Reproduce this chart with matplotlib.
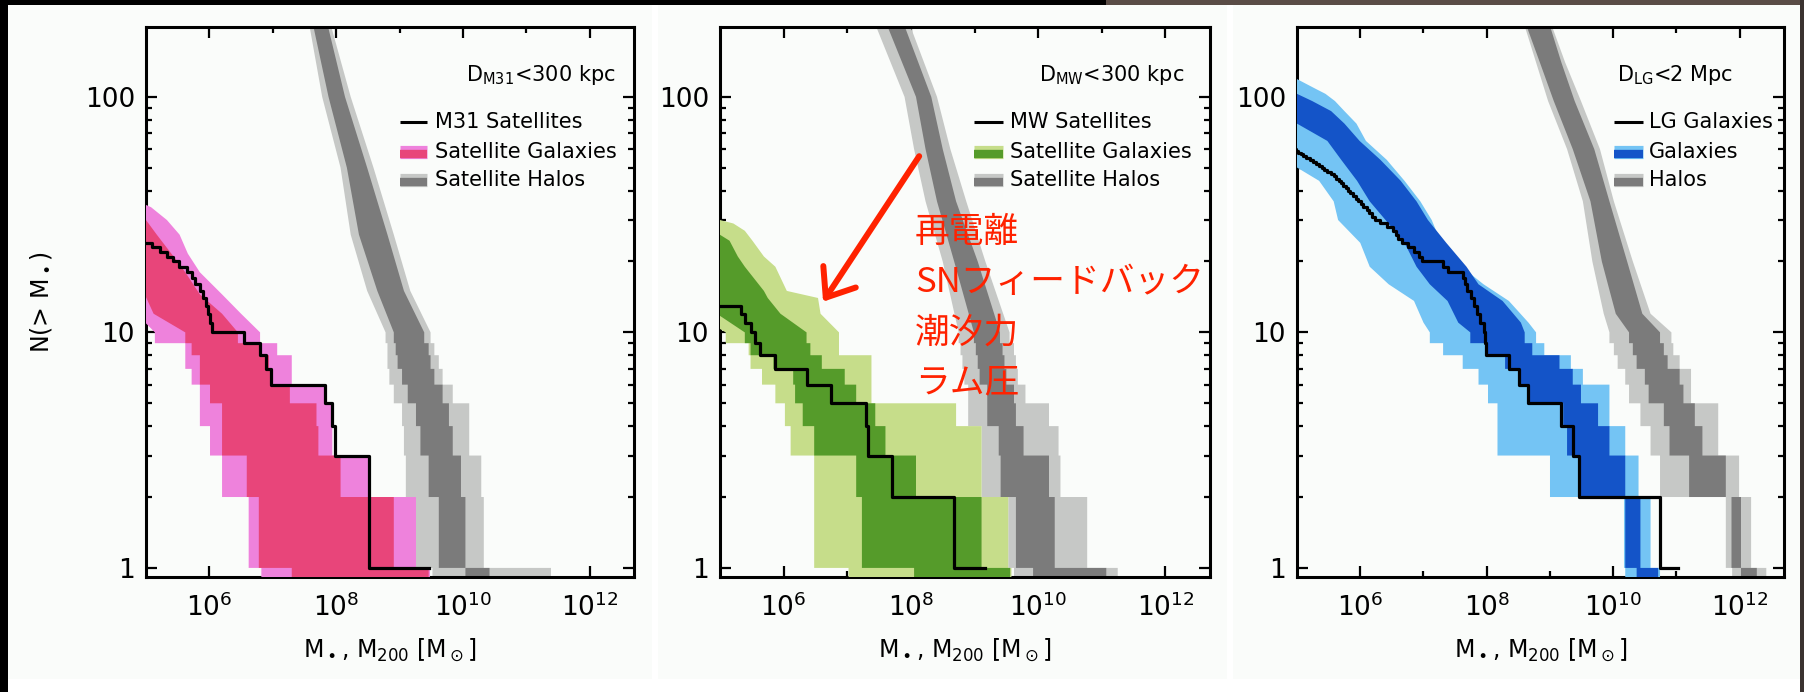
import numpy as np
import matplotlib
matplotlib.use("Agg")
import matplotlib.pyplot as plt
from matplotlib.patches import Rectangle
from matplotlib.ticker import NullFormatter

# ---------------------------------------------------------------------------
# Data (log10 masses in Msun, N = cumulative count)
# ---------------------------------------------------------------------------
# observed satellites: log10 mass of each object, most massive first
m31_sat_logm = [9.46, 8.52, 8.52, 7.98, 7.94, 7.82, 6.97, 6.90, 6.80, 6.55,
                6.04, 6.01, 5.98, 5.94, 5.90, 5.85, 5.78, 5.72, 5.64, 5.52,
                5.43, 5.33, 5.22, 5.10, 4.90]
mw_sat_logm = [9.17, 8.68, 7.70, 7.32, 7.29, 6.75, 6.36, 5.87, 5.63, 5.55,
               5.48, 5.40, 5.33, 4.90]
lg_sat_logm = [11.02, 10.74, 9.46, 9.36, 9.18, 8.66, 8.51, 8.35, 7.99, 7.97,
               7.95, 7.90, 7.85, 7.80, 7.75, 7.68, 7.65, 7.62, 7.38, 7.31,
               6.98, 6.93, 6.85, 6.75, 6.66, 6.60, 6.56, 6.52, 6.42, 6.32,
               6.24, 6.18, 6.14, 6.10, 6.05, 6.01, 5.97, 5.93, 5.88, 5.84,
               5.80, 5.77, 5.73, 5.69, 5.66, 5.62, 5.58, 5.53, 5.48, 5.43,
               5.39, 5.34, 5.30, 5.25, 5.20, 5.15, 5.10, 5.06, 5.02, 4.98,
               4.90]

# simulated bands: rank levels (first 10 are integer ranks, drawn as steps)
# and log10 mass of outer-low, inner-low, inner-high, outer-high edges
m31_gal_n = [1, 2, 3, 4, 5, 6, 7, 8, 9, 10, 12, 14.5, 18, 21.6, 26, 30, 34, 40]
m31_gal_out_lo = [6.82, 6.62, 6.20, 6.01, 5.85, 5.85, 5.72, 5.62, 5.62, 5.14,
                  4.85, 4.6, 4.5, 4.5, 4.5, 4.5, 4.5, 4.5]
m31_gal_in_lo = [7.30, 6.78, 6.59, 6.20, 6.20, 6.01, 5.85, 5.85, 5.72, 5.62,
                 5.12, 4.98, 4.7, 4.5, 4.5, 4.5, 4.5, 4.5]
m31_gal_in_hi = [9.46, 8.91, 8.07, 7.72, 7.69, 7.27, 6.98, 6.94, 6.82, 6.45,
                 6.2, 5.85, 5.62, 5.40, 5.17, 5.0, 4.8, 4.5]
m31_gal_out_hi = [9.48, 9.26, 8.52, 7.94, 7.94, 7.81, 7.30, 7.30, 7.07, 6.8,
                  6.5, 6.2, 5.85, 5.66, 5.53, 5.33, 5.08, 4.5]

m31_halo_n = [1, 2, 3, 4, 5, 6, 7, 8, 9, 10, 15, 26, 50, 100, 200]
m31_halo_out_lo = [9.52, 9.26, 9.10, 9.07, 9.04, 8.91, 8.84, 8.81, 8.81, 8.78,
                   8.49, 8.23, 8.07, 7.78, 7.58]
m31_halo_in_lo = [10.04, 9.62, 9.46, 9.33, 9.26, 9.13, 9.04, 8.97, 8.94, 8.91,
                  8.65, 8.36, 8.17, 7.88, 7.64]
m31_halo_in_hi = [10.42, 10.04, 9.97, 9.84, 9.78, 9.68, 9.55, 9.49, 9.46, 9.39,
                  9.07, 8.81, 8.49, 8.14, 7.87]
m31_halo_out_hi = [11.39, 10.33, 10.29, 10.10, 10.10, 9.84, 9.68, 9.62, 9.55, 9.49,
                   9.17, 8.91, 8.59, 8.23, 7.92]

mw_gal_n = [1, 2, 3, 4, 5, 6, 7, 8, 9, 10, 12, 14, 15, 19, 21, 24.5, 27, 29, 30, 35]
mw_gal_out_lo = [7.02, 6.48, 6.48, 6.11, 6.02, 5.87, 5.66, 5.48, 5.45, 5.09,
                 4.6, 4.5, 4.5, 4.5, 4.5, 4.5, 4.5, 4.5, 4.5, 4.5]
mw_gal_in_lo = [8.05, 7.23, 7.14, 6.48, 6.30, 6.18, 6.15, 5.84, 5.48, 5.39,
                4.95, 4.75, 4.7, 4.5, 4.5, 4.5, 4.5, 4.5, 4.5, 4.5]
mw_gal_in_hi = [9.56, 9.11, 8.08, 7.60, 7.44, 7.14, 6.96, 6.60, 6.42, 6.36,
                5.95, 5.75, 5.69, 5.39, 5.28, 5.15, 4.9, 4.7, 4.5, 4.5]
mw_gal_out_hi = [9.58, 9.53, 9.11, 9.11, 8.71, 7.38, 7.38, 7.38, 6.87, 6.87,
                 6.58, 6.54, 6.05, 5.87, 5.69, 5.51, 5.39, 5.21, 5.0, 4.5]

mw_halo_n = [1, 2, 3, 4, 5, 6, 7, 8, 9, 10, 20, 36, 60, 100, 200]
mw_halo_out_lo = [9.62, 9.53, 9.11, 9.11, 8.90, 8.90, 8.84, 8.81, 8.78, 8.75,
                  8.50, 8.23, 8.05, 7.90, 7.45]
mw_halo_in_lo = [9.92, 9.65, 9.41, 9.38, 9.20, 9.20, 9.08, 9.05, 9.02, 8.99,
                 8.68, 8.41, 8.23, 8.08, 7.63]
mw_halo_in_hi = [11.07, 10.26, 10.17, 9.77, 9.65, 9.62, 9.50, 9.47, 9.44, 9.40,
                 9.05, 8.71, 8.50, 8.32, 7.90]
mw_halo_out_hi = [11.25, 10.77, 10.35, 10.32, 10.17, 9.80, 9.68, 9.65, 9.62, 9.55,
                  9.17, 8.87, 8.62, 8.41, 7.99]

lg_gal_n = [1, 2, 3, 4, 5, 6, 7, 8, 9, 10, 11, 13.6, 16, 19, 24, 30, 36, 44, 54,
            65, 77, 87, 96, 103, 108, 119, 125]
lg_gal_out_lo = [10.19, 10.17, 9.00, 8.17, 8.17, 8.02, 7.87, 7.62, 7.31, 7.10,
                 7.0, 6.85, 6.45, 6.15, 6.0, 5.65, 5.58, 5.35, 4.8, 4.6, 4.5,
                 4.5, 4.5, 4.5, 4.5, 4.5, 4.5]
lg_gal_in_lo = [10.37, 10.19, 9.46, 9.27, 9.21, 8.66, 8.54, 8.29, 7.99, 7.74,
                7.55, 7.38, 7.1, 6.89, 6.7, 6.40, 6.15, 5.95, 5.7, 5.48, 5.0,
                4.7, 4.5, 4.5, 4.5, 4.5, 4.5]
lg_gal_in_hi = [10.71, 10.43, 10.19, 9.94, 9.76, 9.49, 9.36, 9.15, 8.72, 8.60,
                8.54, 8.25, 7.87, 7.68, 7.36, 7.07, 6.89, 6.64, 6.32, 5.99, 5.75,
                5.54, 5.24, 5.0, 4.7, 4.5, 4.5]
lg_gal_out_hi = [10.74, 10.59, 10.40, 10.19, 9.94, 9.94, 9.52, 9.33, 8.91, 8.78,
                 8.66, 8.35, 7.95, 7.6, 7.28, 7.13, 6.95, 6.70, 6.42, 6.09, 5.94,
                 5.75, 5.60, 5.45, 5.30, 5.0, 4.5]

lg_halo_n = [1, 2, 3, 4, 5, 6, 7, 8, 9, 10, 12, 20, 36, 60, 96, 140, 200]
lg_halo_out_lo = [11.88, 11.78, 10.74, 10.59, 10.43, 10.25, 10.19, 10.07, 10.01, 9.94,
                  9.85, 9.67, 9.52, 9.27, 8.97, 8.78, 8.60]
lg_halo_in_lo = [12.02, 11.87, 11.20, 10.89, 10.80, 10.56, 10.50, 10.37, 10.31, 10.25,
                 10.04, 9.82, 9.64, 9.36, 9.06, 8.84, 8.63]
lg_halo_in_hi = [12.27, 12.02, 11.78, 11.41, 11.29, 11.11, 11.05, 10.86, 10.80, 10.74,
                 10.46, 10.22, 9.94, 9.70, 9.39, 9.18, 9.00]
lg_halo_out_hi = [12.42, 12.18, 11.99, 11.66, 11.66, 11.23, 11.23, 11.05, 10.95, 10.92,
                  10.59, 10.31, 10.01, 9.79, 9.49, 9.24, 9.03]

x_major = [1e6, 1e8, 1e10, 1e12]
x_major_labels = [r"$10^{6}$", r"$10^{8}$", r"$10^{10}$", r"$10^{12}$"]
x_minor = [1e7, 1e9, 1e11]
y_major = [1, 10, 100]
y_major_labels = ["1", "10", "100"]

# colours
GREY_IN, GREY_OUT = "#7b7b7b", "#c6c8c6"
PINK_IN, PINK_OUT = "#e8457a", "#ee82dc"
GREEN_IN, GREEN_OUT = "#559b2a", "#c6dd8a"
BLUE_IN, BLUE_OUT = "#1454c8", "#74c4f4"
PANEL_BG = "#fafcfa"
RED = "#ff2200"

# ---------------------------------------------------------------------------
W, H = 1804, 692
fig = plt.figure(figsize=(W / 100, H / 100), dpi=100)
fig.patch.set_facecolor("white")


def fx(x):
    return x / W


def fy(y):
    return 1 - y / H


def frame_rect(x0, y0, x1, y1, color):
    fig.add_artist(Rectangle((fx(x0), fy(y1)), (x1 - x0) / W, (y1 - y0) / H,
                             transform=fig.transFigure, facecolor=color,
                             edgecolor="none", zorder=-10))


# slide background: panel cards, dark borders
frame_rect(8, 5, 652, 679, PANEL_BG)
frame_rect(658, 5, 1227, 679, PANEL_BG)
frame_rect(1233, 5, 1800, 679, PANEL_BG)
frame_rect(0, 0, 8, H, "black")
frame_rect(0, 0, 1106, 5, "black")
frame_rect(1106, 0, W, 5, "#5a4c46")
frame_rect(1800, 0, W, H, "#3a3230")


def band_outline(levels, nstep, left, right, floor=0.5):
    """Closed outline of a rank band: stepped for the first nstep ranks."""
    def edge(vals):
        xs, ys = [], []
        y0 = floor
        for i, n in enumerate(levels):
            if i < nstep:
                xs += [vals[i], vals[i]]
                ys += [y0, n]
                y0 = n
            else:
                xs.append(vals[i])
                ys.append(n)
        return xs, ys
    lx, ly = edge(left)
    rx, ry = edge(right)
    xs = np.array(lx + rx[::-1])
    ys = np.array(ly + ry[::-1])
    return 10.0 ** xs, ys


def draw_band(ax, levels, out_lo, in_lo, in_hi, out_hi, c_in, c_out, z):
    x, y = band_outline(levels, 10, out_lo, out_hi)
    ax.fill(x, y, color=c_out, lw=0, zorder=z)
    x, y = band_outline(levels, 10, in_lo, in_hi)
    ax.fill(x, y, color=c_in, lw=0, zorder=z + 0.5)


def setup(ax):
    ax.set_xscale("log")
    ax.set_yscale("log")
    ax.set_xlim(1e5, 10 ** 12.7)
    ax.set_ylim(0.915, 198)
    ax.set_facecolor(PANEL_BG)
    ax.set_xticks(x_major)
    ax.set_xticklabels(x_major_labels)
    ax.set_xticks(x_minor, minor=True)
    ax.set_yticks(y_major)
    ax.set_yticklabels(y_major_labels)
    ax.set_yticks([k * d for d in (1, 10) for k in range(2, 10)], minor=True)
    ax.xaxis.set_minor_formatter(NullFormatter())
    ax.yaxis.set_minor_formatter(NullFormatter())
    ax.tick_params(which="both", direction="in", top=True, right=True,
                   width=1.6, color="black", labelsize=19)
    ax.tick_params(which="major", length=8)
    ax.tick_params(which="minor", length=4.5)
    ax.tick_params(axis="x", which="major", pad=12)
    ax.tick_params(axis="y", which="major", pad=8)
    for s in ax.spines.values():
        s.set_linewidth(2.2)
    ax.text(0.5, -0.133, r"M$_\bullet$, M$_{200}$ [M$_\odot$]",
            transform=ax.transAxes, ha="center", va="center", fontsize=17)


def legend(ax, x0, x1, xt, title, xr, labels, c_in, c_out):
    rows = [0.827, 0.773, 0.722]
    ax.text(xr, 0.913, title, transform=ax.transAxes, ha="right", va="center",
            fontsize=15)
    ax.plot([x0, x1], [rows[0]] * 2, color="black", lw=2.2,
            transform=ax.transAxes, zorder=8, solid_capstyle="butt")
    ax.plot([x0, x1], [rows[1]] * 2, color=c_out, lw=9.5,
            transform=ax.transAxes, zorder=8, solid_capstyle="butt")
    ax.plot([x0, x1], [rows[1] - 0.004] * 2, color=c_in, lw=6,
            transform=ax.transAxes, zorder=8, solid_capstyle="butt")
    ax.plot([x0, x1], [rows[2]] * 2, color=GREY_OUT, lw=9.5,
            transform=ax.transAxes, zorder=8, solid_capstyle="butt")
    ax.plot([x0, x1], [rows[2] - 0.004] * 2, color=GREY_IN, lw=6,
            transform=ax.transAxes, zorder=8, solid_capstyle="butt")
    for r, lab in zip(rows, labels):
        ax.text(xt, r, lab, transform=ax.transAxes, ha="left", va="center",
                fontsize=15, zorder=9)


def sat_line(ax, logm):
    n = np.arange(1, len(logm) + 1)
    ax.step(10.0 ** np.array(logm), n, where="post", color="black", lw=2.3,
            zorder=6)


axes_px = [(146, 634), (720, 1210), (1297, 1784)]
axs = []
for x0, x1 in axes_px:
    ax = fig.add_axes([fx(x0), fy(577), (x1 - x0) / W, 550 / H])
    setup(ax)
    axs.append(ax)

# --- M31 panel ---
ax = axs[0]
draw_band(ax, m31_halo_n, m31_halo_out_lo, m31_halo_in_lo, m31_halo_in_hi,
          m31_halo_out_hi, GREY_IN, GREY_OUT, 2)
draw_band(ax, m31_gal_n, m31_gal_out_lo, m31_gal_in_lo, m31_gal_in_hi,
          m31_gal_out_hi, PINK_IN, PINK_OUT, 3)
sat_line(ax, m31_sat_logm)
legend(ax, 0.520, 0.576, 0.592, r"D$_{\mathrm{M31}}$<300 kpc", 0.963,
       ["M31 Satellites", "Satellite Galaxies", "Satellite Halos"],
       PINK_IN, PINK_OUT)

# --- MW panel ---
ax = axs[1]
draw_band(ax, mw_halo_n, mw_halo_out_lo, mw_halo_in_lo, mw_halo_in_hi,
          mw_halo_out_hi, GREY_IN, GREY_OUT, 2)
draw_band(ax, mw_gal_n, mw_gal_out_lo, mw_gal_in_lo, mw_gal_in_hi,
          mw_gal_out_hi, GREEN_IN, GREEN_OUT, 3)
sat_line(ax, mw_sat_logm)
legend(ax, 0.518, 0.578, 0.592, r"D$_{\mathrm{MW}}$<300 kpc", 0.947,
       ["MW Satellites", "Satellite Galaxies", "Satellite Halos"],
       GREEN_IN, GREEN_OUT)

# annotation: processes suppressing galaxy formation in small halos
ax.annotate("", xy=(10 ** 6.62, 13.5), xytext=(10 ** 8.13, 56),
            arrowprops=dict(arrowstyle="->,head_length=0.9,head_width=0.7",
                            color=RED, lw=4.3, mutation_scale=20,
                            shrinkA=0, shrinkB=0), zorder=10)
jp_font = ["Noto Sans CJK JP", "DejaVu Sans"]
for txt, yy in zip(["再電離", "SNフィードバック", "潮汐力", "ラム圧"],
                   [0.627, 0.536, 0.444, 0.353]):
    ax.text(0.398, yy, txt, transform=ax.transAxes, ha="left", va="center",
            fontsize=25, color=RED, family=jp_font, zorder=11)

# --- Local Group panel ---
ax = axs[2]
draw_band(ax, lg_halo_n, lg_halo_out_lo, lg_halo_in_lo, lg_halo_in_hi,
          lg_halo_out_hi, GREY_IN, GREY_OUT, 2)
draw_band(ax, lg_gal_n, lg_gal_out_lo, lg_gal_in_lo, lg_gal_in_hi,
          lg_gal_out_hi, BLUE_IN, BLUE_OUT, 3)
sat_line(ax, lg_sat_logm)
legend(ax, 0.651, 0.710, 0.723, r"D$_{\mathrm{LG}}$<2 Mpc", 0.895,
       ["LG Galaxies", "Galaxies", "Halos"], BLUE_IN, BLUE_OUT)

fig.text(fx(41), fy(302), r"N(> M$_\bullet$)", rotation=90, ha="center",
         va="center", fontsize=17)

fig.savefig("out.png", dpi=100, facecolor=fig.get_facecolor())
